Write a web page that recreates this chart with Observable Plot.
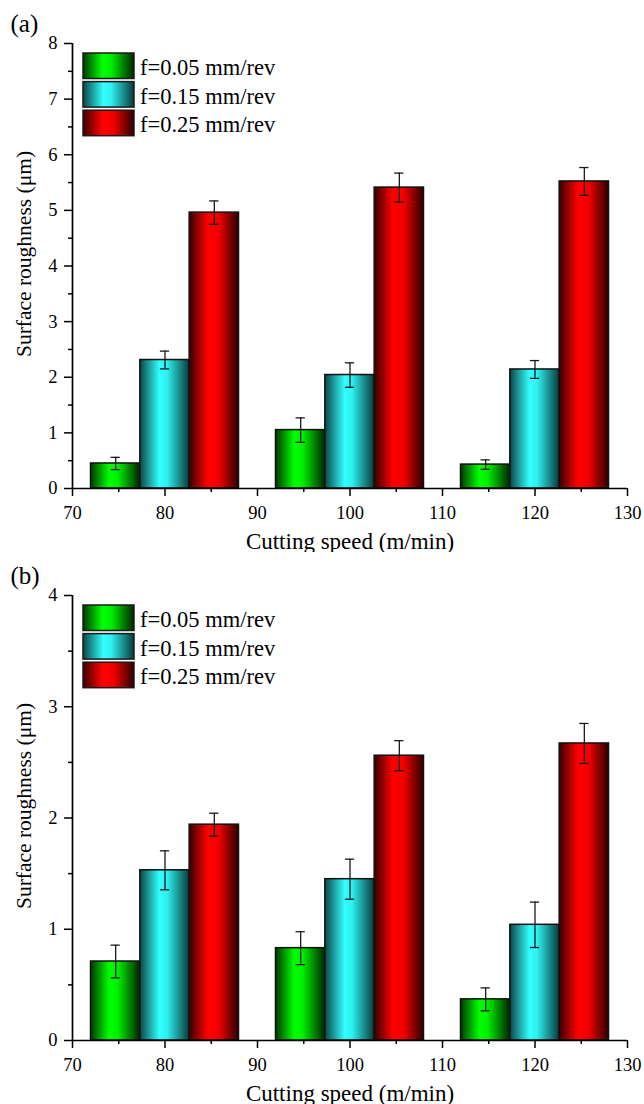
<!DOCTYPE html>
<html>
<head>
<meta charset="utf-8">
<script src="https://cdn.jsdelivr.net/npm/d3@7"></script>
<script src="https://cdn.jsdelivr.net/npm/@observablehq/plot@0.6"></script>
<style>
  body { margin: 0; background: #fff; }
  svg { display: block; }
</style>
</head>
<body>
<div id="chart"></div>
<script>
// ---------- data ----------
const speeds = [80, 100, 120];
const feeds = ["f=0.05 mm/rev", "f=0.15 mm/rev", "f=0.25 mm/rev"];

// panel (a)
const roughA_f005 = [0.45, 1.05, 0.43];
const roughA_f015 = [2.31, 2.04, 2.14];
const roughA_f025 = [4.96, 5.41, 5.52];
const errA_f005 = [0.11, 0.22, 0.085];
const errA_f015 = [0.16, 0.22, 0.16];
const errA_f025 = [0.21, 0.26, 0.25];

// panel (b)
const roughB_f005 = [0.71, 0.83, 0.37];
const roughB_f015 = [1.53, 1.45, 1.04];
const roughB_f025 = [1.94, 2.56, 2.67];
const errB_f005 = [0.147, 0.148, 0.103];
const errB_f015 = [0.175, 0.18, 0.204];
const errB_f025 = [0.103, 0.135, 0.18];

const xTicks = [70, 80, 90, 100, 110, 120, 130];
const xMinorTicks = [75, 85, 95, 105, 115, 125];
const yTicksA = [0, 1, 2, 3, 4, 5, 6, 7, 8];
const yMinorA = [0.5, 1.5, 2.5, 3.5, 4.5, 5.5, 6.5, 7.5];
const yTicksB = [0, 1, 2, 3, 4];
const yMinorB = [0.5, 1.5, 2.5, 3.5];

const xTitle = "Cutting speed (m/min)";
const yTitle = "Surface roughness (\u03bcm)";

// ---------- styles ----------
const FONT = "'Liberation Serif', 'Times New Roman', serif";
const gradStops = [
  [["0%", "#003800"], ["38%", "#00ff00"], ["55%", "#00f000"], ["100%", "#002400"]],
  [["0%", "#0b4646"], ["40%", "#33ffff"], ["55%", "#2ef0f0"], ["100%", "#0a3a3a"]],
  [["0%", "#380000"], ["38%", "#ff0000"], ["60%", "#f00000"], ["100%", "#2a0000"]]
];
const fmt = d => String(d);

function panel({tag, id, means, errs, yMax, yTicks, yMinor}) {
  const bw = 16 / 3;
  const rows = [];
  feeds.forEach((f, s) => speeds.forEach((v, i) => {
    rows.push({feed: f, s, speed: v, x: v + (s - 1) * bw, y: means[s][i], e: errs[s][i]});
  }));
  const gid = s => `${id}-grad${s}`;

  const defs = () => {
    const d = d3.create("svg:defs");
    gradStops.forEach((stops, s) => {
      const lg = d.append("linearGradient").attr("id", gid(s))
        .attr("x1", "0").attr("x2", "1").attr("y1", "0").attr("y2", "0");
      stops.forEach(([o, c]) => lg.append("stop").attr("offset", o).attr("stop-color", c));
    });
    return d.node();
  };

  const legend = (index, scales, values, dims) => {
    const g = d3.create("svg:g").attr("text-anchor", "start");
    feeds.forEach((f, s) => {
      const y0 = dims.marginTop + 10 + s * 28.6;
      g.append("rect")
        .attr("x", dims.marginLeft + 11).attr("y", y0)
        .attr("width", 51).attr("height", 25.5)
        .attr("fill", `url(#${gid(s)})`)
        .attr("stroke", "#1a1a1a").attr("stroke-width", 1.5);
      g.append("text")
        .attr("x", dims.marginLeft + 68).attr("y", y0 + 22)
        .attr("text-anchor", "start")
        .attr("font-family", FONT).attr("font-size", 22.5).attr("fill", "black")
        .text(f);
    });
    return g.node();
  };

  const marks = [defs];
  feeds.forEach((f, s) => {
    marks.push(Plot.rectY(rows.filter(d => d.s === s), {
      x1: d => d.x - bw / 2, x2: d => d.x + bw / 2, y1: 0, y2: "y",
      fill: `url(#${gid(s)})`, stroke: "#111", strokeWidth: 1.5
    }));
  });
  marks.push(
    Plot.ruleX(rows, {x: "x", y1: d => d.y - d.e, y2: d => d.y + d.e, stroke: "#1a1a1a", strokeWidth: 1.3}),
    Plot.ruleY(rows, {y: d => d.y + d.e, x1: d => d.x - 0.5, x2: d => d.x + 0.5, stroke: "#1a1a1a", strokeWidth: 1.3}),
    Plot.ruleY(rows, {y: d => d.y - d.e, x1: d => d.x - 0.5, x2: d => d.x + 0.5, stroke: "#1a1a1a", strokeWidth: 1.3}),
    Plot.axisX(xTicks, {tickSize: 8, tickPadding: 9, fontSize: 18.5, strokeWidth: 1.5, label: null, tickFormat: fmt, fontFamily: FONT}),
    Plot.axisX(xMinorTicks, {tickSize: 4, strokeWidth: 1.5, tickFormat: () => "", label: null}),
    Plot.axisY(yTicks, {tickSize: 8, tickPadding: 7, fontSize: 18.5, strokeWidth: 1.5, label: null, tickFormat: fmt, fontFamily: FONT}),
    Plot.axisY(yMinor, {tickSize: 4, strokeWidth: 1.5, tickFormat: () => "", label: null}),
    Plot.ruleY([0], {stroke: "black", strokeWidth: 1.7}),
    Plot.ruleX([70], {stroke: "black", strokeWidth: 1.7}),
    legend,
    Plot.text([tag], {text: d => d, frameAnchor: "top-left", textAnchor: "start", lineAnchor: "bottom",
      dx: -62, dy: -12, fontSize: 25, fontFamily: FONT, fill: "black"}),
    Plot.text([xTitle], {text: d => d, frameAnchor: "bottom", textAnchor: "middle", lineAnchor: "bottom",
      dy: 60, fontSize: 23, fontFamily: FONT, fill: "black"}),
    Plot.text([yTitle], {text: d => d, frameAnchor: "left", textAnchor: "middle", rotate: -90, lineAnchor: "middle",
      dx: -48, dy: -12, fontSize: 21.5, fontFamily: FONT, fill: "black"})
  );

  return Plot.plot({
    width: 644,
    height: 552,
    marginTop: 43,
    marginBottom: 64,
    marginLeft: 72,
    marginRight: 17,
    style: {fontFamily: FONT, fontSize: "18px", color: "black", background: "white"},
    x: {type: "linear", domain: [70, 130]},
    y: {domain: [0, yMax]},
    marks
  });
}

const chart = document.getElementById("chart");
chart.appendChild(panel({
  tag: "(a)", id: "pa",
  means: [roughA_f005, roughA_f015, roughA_f025],
  errs: [errA_f005, errA_f015, errA_f025],
  yMax: 8, yTicks: yTicksA, yMinor: yMinorA
}));
chart.appendChild(panel({
  tag: "(b)", id: "pb",
  means: [roughB_f005, roughB_f015, roughB_f025],
  errs: [errB_f005, errB_f015, errB_f025],
  yMax: 4, yTicks: yTicksB, yMinor: yMinorB
}));
</script>
</body>
</html>
